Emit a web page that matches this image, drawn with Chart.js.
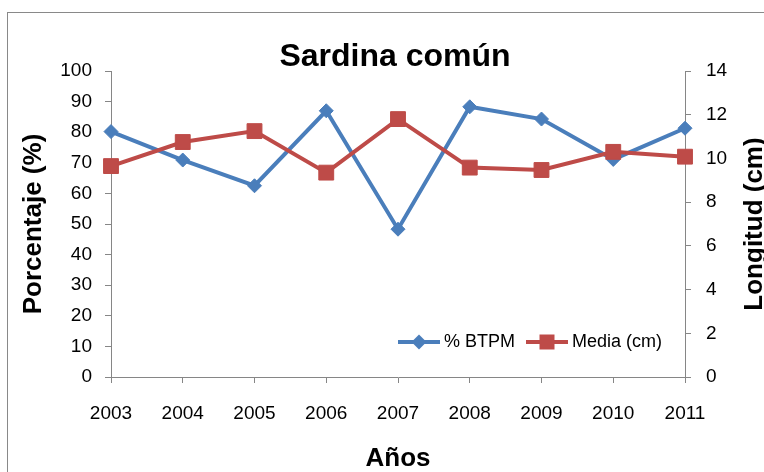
<!DOCTYPE html>
<html>
<head>
<meta charset="utf-8">
<script src="https://cdn.jsdelivr.net/npm/chart.js@4.4.0/dist/chart.umd.min.js"></script>
<style>
    html, body { margin: 0; padding: 0; background: #fff; overflow: hidden; width: 764px; height: 472px; }
    #frame { position: absolute; left: 7px; top: 12px; width: 800px; height: 500px; border: 1px solid #898989; }
    #chart { position: absolute; left: 0; top: 0; }
</style>
</head>
<body>
<div id="frame"></div>
<canvas id="chart" width="790" height="472" style="width:790px;height:472px"></canvas>
<script>
// Datos
var anos = ['2003', '2004', '2005', '2006', '2007', '2008', '2009', '2010', '2011'];
var pctBTPM = [80.2, 70.9, 62.5, 87.0, 48.3, 88.3, 84.3, 71.1, 81.3];
var mediaCm = [9.65, 10.75, 11.25, 9.35, 11.8, 9.58, 9.47, 10.3, 10.08];
var nombresSeries = ['% BTPM', 'Media (cm)'];

var azul = '#4A7EBB';
var rojo = '#BE4B48';
var gris = '#868686';
var fuente = "'Liberation Sans', Arial, sans-serif";

// leyenda dentro del área y título derecho girado como en Excel
var extras = {
    id: 'extras',
    afterDraw: function(chart) {
        var ctx = chart.ctx;
        var area = chart.chartArea;
        ctx.save();

        // título eje derecho (se lee de abajo hacia arriba)
        ctx.translate(755, (area.top + area.bottom) / 2);
        ctx.rotate(-Math.PI / 2);
        ctx.font = 'bold 26px ' + fuente;
        ctx.fillStyle = '#000';
        ctx.textAlign = 'center';
        ctx.textBaseline = 'middle';
        ctx.fillText('Longitud (cm)', 0, 0);
        ctx.setTransform(1, 0, 0, 1, 0, 0);

        // leyenda
        var y = 342;
        var items = [
            { x: 398, ds: chart.data.datasets[0], forma: 'rombo' },
            { x: 526, ds: chart.data.datasets[1], forma: 'cuadro' }
        ];
        ctx.font = '18px ' + fuente;
        ctx.textAlign = 'left';
        for (var i = 0; i < items.length; i++) {
            var it = items[i];
            ctx.strokeStyle = it.ds.borderColor;
            ctx.lineWidth = it.ds.borderWidth;
            ctx.beginPath();
            ctx.moveTo(it.x, y);
            ctx.lineTo(it.x + 42, y);
            ctx.stroke();
            ctx.fillStyle = it.ds.pointBackgroundColor;
            var cx = it.x + 21;
            ctx.beginPath();
            if (it.forma === 'rombo') {
                ctx.moveTo(cx, y - 7.5);
                ctx.lineTo(cx + 7.5, y);
                ctx.lineTo(cx, y + 7.5);
                ctx.lineTo(cx - 7.5, y);
                ctx.closePath();
            } else {
                ctx.rect(cx - 7.5, y - 7.5, 15, 15);
            }
            ctx.fill();
            ctx.fillStyle = '#000';
            ctx.fillText(it.ds.label, it.x + 46, y);
        }
        ctx.restore();
    }
};

var ctx = document.getElementById('chart');
var grafico = new Chart(ctx, {
    type: 'line',
    data: {
        labels: anos,
        datasets: [{
            label: nombresSeries[0],
            data: pctBTPM,
            yAxisID: 'y',
            borderColor: azul,
            backgroundColor: azul,
            pointBackgroundColor: azul,
            pointBorderColor: azul,
            borderWidth: 4,
            pointStyle: 'rectRot',
            pointRadius: 7,
            pointBorderWidth: 1,
            tension: 0,
            order: 2
        }, {
            label: nombresSeries[1],
            data: mediaCm,
            yAxisID: 'y1',
            borderColor: rojo,
            backgroundColor: rojo,
            pointBackgroundColor: rojo,
            pointBorderColor: rojo,
            borderWidth: 4,
            pointStyle: 'rect',
            pointRadius: 10.5,
            pointBorderWidth: 1,
            tension: 0,
            order: 1
        }]
    },
    options: {
        responsive: false,
        animation: false,
        layout: { padding: 0 },
        plugins: {
            legend: { display: false },
            tooltip: { enabled: false },
            title: {
                display: true,
                text: 'Sardina común',
                color: '#000',
                font: { family: fuente, size: 32, weight: 'bold', lineHeight: 1 },
                padding: { top: 41, bottom: -2 }
            }
        },
        scales: {
            x: {
                offset: false,
                grid: { display: true, drawOnChartArea: false, color: gris, tickLength: 6 },
                border: { color: gris },
                ticks: { color: '#000', font: { family: fuente, size: 19 }, padding: 19, maxRotation: 0, autoSkip: false },
                title: {
                    display: true,
                    text: 'Años',
                    color: '#000',
                    font: { family: fuente, size: 26, weight: 'bold' },
                    padding: { top: 0, bottom: -2 }
                },
                afterFit: function(scale) { scale.height = 472 - 377; }
            },
            y: {
                position: 'left',
                min: 0,
                max: 100,
                grid: { display: true, drawOnChartArea: false, color: gris, tickLength: 6 },
                border: { color: gris },
                ticks: { stepSize: 10, color: '#000', font: { family: fuente, size: 19 }, padding: 13 },
                title: {
                    display: true,
                    text: 'Porcentaje (%)',
                    color: '#000',
                    font: { family: fuente, size: 26, weight: 'bold' },
                    padding: { top: 18, bottom: 0 }
                },
                afterFit: function(scale) { scale.width = 111; }
            },
            y1: {
                position: 'right',
                min: 0,
                max: 14,
                grid: { display: true, drawOnChartArea: false, color: gris, tickLength: 6 },
                border: { color: gris },
                ticks: { stepSize: 2, color: '#000', font: { family: fuente, size: 19 }, padding: 15 },
                afterFit: function(scale) { scale.width = 790 - 685; }
            }
        }
    },
    plugins: [extras]
});
</script>
</body>
</html>
